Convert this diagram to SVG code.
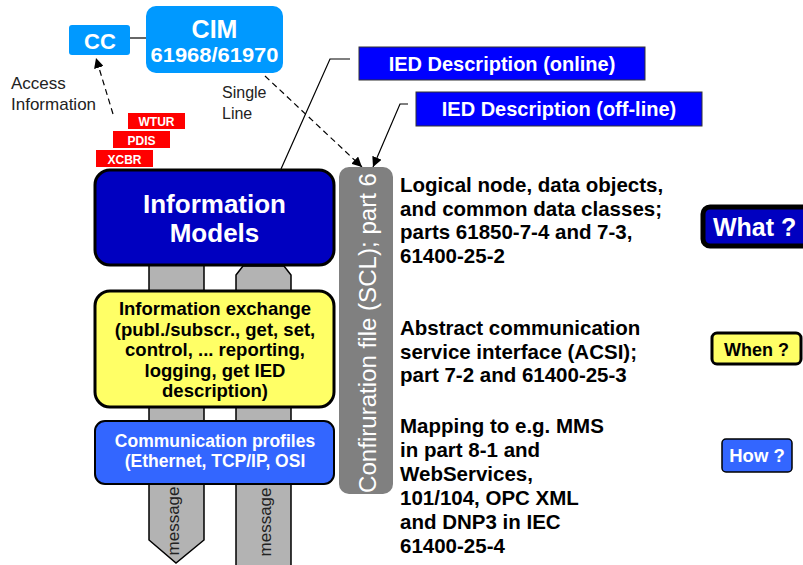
<svg xmlns="http://www.w3.org/2000/svg" width="803" height="565" viewBox="0 0 803 565">
<defs>
<style>
.b{font-family:"Liberation Sans",Arial,sans-serif;font-weight:bold}
.r{font-family:"Liberation Sans",Arial,sans-serif}
.w{fill:#fff}
.k{fill:#000}
.mid{text-anchor:middle}
.pillar{fill:#b3b3b3;stroke:#000;stroke-width:1.5}
.tag{fill:#ff0000}
.ied{fill:#0000ff;stroke:#333;stroke-width:1}
.desc{font-family:"Liberation Sans",Arial,sans-serif;font-weight:bold;font-size:20.5px;fill:#000}
</style>
<marker id="ah" viewBox="0 0 10 10" refX="10" refY="5" markerWidth="10" markerHeight="10" markerUnits="userSpaceOnUse" orient="auto">
<path d="M0,0 L10,5 L0,10 z" fill="#000"/>
</marker>
</defs>
<rect width="803" height="565" fill="#fff"/>

<g id="pillars">
<path class="pillar" d="M149,262 L204,262 L204,540 L176,563 L149,540 Z"/>
<path class="pillar" d="M236,275 L243,266 L284,266 L291,275 L291,570 L236,570 Z"/>
<text class="r" font-size="17" fill="#222" text-anchor="middle" transform="translate(179,521) rotate(-90)">message</text>
<text class="r" font-size="17" fill="#222" text-anchor="middle" transform="translate(271,522) rotate(-90)">message</text>
</g>

<g id="connectors" fill="none" stroke="#000" stroke-width="1.2">
<line x1="130" y1="38" x2="146" y2="38"/>
<line x1="113" y1="114" x2="96" y2="58" stroke-dasharray="6,4" marker-end="url(#ah)"/>
<line x1="265" y1="76" x2="362" y2="167" stroke-dasharray="6,4" marker-end="url(#ah)"/>
<polyline points="350,59 330,59 281,169"/>
<polyline points="408,104 400,104 373,167" marker-end="url(#ah)"/>
</g>

<g id="cc">
<rect x="69" y="25" width="61" height="30" rx="3" fill="#0099ff"/>
<text class="b w mid" x="100" y="49" font-size="22">CC</text>
</g>

<g id="cim">
<rect x="146" y="6" width="137" height="67" rx="10" fill="#0099ff"/>
<text class="b w mid" x="214.5" y="38" font-size="25">CIM</text>
<text class="b w mid" x="214.5" y="62" font-size="20" textLength="128" lengthAdjust="spacingAndGlyphs">61968/61970</text>
</g>

<g id="access-label">
<text class="r" x="11" y="89" font-size="17" fill="#222">Access</text>
<text class="r" x="11" y="110" font-size="17" fill="#222">Information</text>
</g>

<g id="single-line-label">
<text class="r" x="222" y="98" font-size="16" fill="#222">Single</text>
<text class="r" x="222" y="119" font-size="16" fill="#222">Line</text>
</g>

<g id="wtur">
<rect class="tag" x="128" y="113" width="57" height="16"/>
<text class="b w mid" x="156.5" y="126" font-size="12">WTUR</text>
</g>
<g id="pdis">
<rect class="tag" x="113" y="131" width="57" height="17"/>
<text class="b w mid" x="141.5" y="145" font-size="12">PDIS</text>
</g>
<g id="xcbr">
<rect class="tag" x="96" y="150" width="57" height="17"/>
<text class="b w mid" x="124.5" y="164" font-size="12">XCBR</text>
</g>

<g id="ied-online">
<rect class="ied" x="359" y="47" width="286" height="33"/>
<text class="b w mid" x="502" y="71" font-size="20">IED Description (online)</text>
</g>
<g id="ied-offline">
<rect class="ied" x="416" y="92" width="286" height="34"/>
<text class="b w mid" x="559" y="116" font-size="20">IED Description (off-line)</text>
</g>

<g id="information-models">
<rect x="95" y="170" width="239" height="95" rx="15" fill="#0000c0" stroke="#000" stroke-width="3"/>
<text class="b w mid" x="214.5" y="213" font-size="26">Information</text>
<text class="b w mid" x="214.5" y="242" font-size="26">Models</text>
</g>

<g id="information-exchange">
<rect x="95" y="291" width="239" height="116" rx="15" fill="#ffff66" stroke="#000" stroke-width="3"/>
<g class="b k mid" font-size="18.5">
<text x="215" y="315">Information exchange</text>
<text x="215" y="336">(publ./subscr., get, set,</text>
<text x="215" y="356">control, ... reporting,</text>
<text x="215" y="377">logging, get IED</text>
<text x="215" y="397">description)</text>
</g>
</g>

<g id="communication-profiles">
<rect x="95" y="421" width="239" height="63" rx="10" fill="#3366ff" stroke="#000" stroke-width="2"/>
<text class="b w mid" x="215" y="447" font-size="17.5">Communication profiles</text>
<text class="b w mid" x="215" y="467" font-size="17.5">(Ethernet, TCP/IP, OSI</text>
</g>

<g id="scl-bar">
<rect x="339" y="167" width="54" height="327" rx="10" fill="#808080"/>
<text class="r w mid" font-size="23" textLength="320" lengthAdjust="spacingAndGlyphs" transform="translate(376,333) rotate(-90)">Confiruration file (SCL); part 6</text>
</g>

<g id="desc-what">
<text class="desc" x="400" y="192">Logical node, data objects,</text>
<text class="desc" x="400" y="216">and common data classes;</text>
<text class="desc" x="400" y="239">parts 61850-7-4 and 7-3,</text>
<text class="desc" x="400" y="263">61400-25-2</text>
</g>
<g id="desc-when">
<text class="desc" x="400" y="335">Abstract communication</text>
<text class="desc" x="400" y="359">service interface (ACSI);</text>
<text class="desc" x="400" y="382">part 7-2 and 61400-25-3</text>
</g>
<g id="desc-how">
<text class="desc" x="400" y="433">Mapping to e.g. MMS</text>
<text class="desc" x="400" y="457">in part 8-1 and</text>
<text class="desc" x="400" y="481">WebServices,</text>
<text class="desc" x="400" y="505">101/104, OPC XML</text>
<text class="desc" x="400" y="529">and DNP3 in IEC</text>
<text class="desc" x="400" y="553">61400-25-4</text>
</g>

<g id="what">
<rect x="703" y="207" width="110" height="39" rx="7" fill="#0000c0" stroke="#000" stroke-width="5"/>
<text class="b w" x="713" y="236" font-size="25">What ?</text>
</g>
<g id="when">
<rect x="712" y="333" width="89" height="31" rx="5" fill="#ffff66" stroke="#000" stroke-width="3"/>
<text class="b k mid" x="756.5" y="356" font-size="18">When ?</text>
</g>
<g id="how">
<rect x="722" y="439" width="70" height="33" rx="4" fill="#3366ff" stroke="#000" stroke-width="1.5"/>
<text class="b w mid" x="757" y="462" font-size="18.5">How ?</text>
</g>
</svg>
